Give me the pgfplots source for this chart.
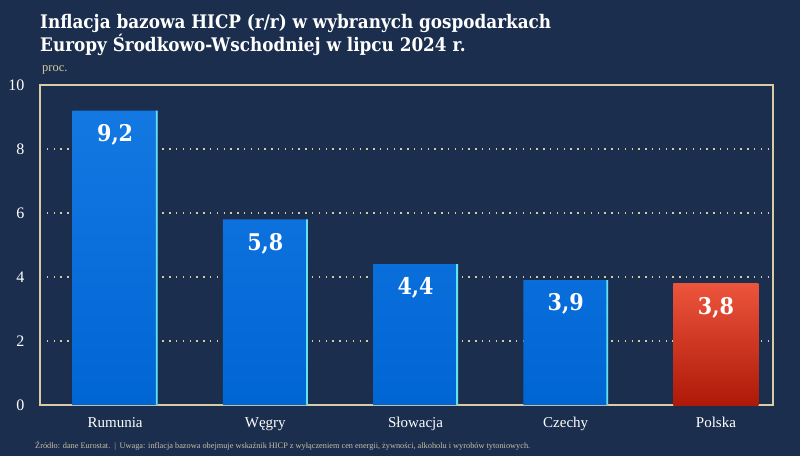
\documentclass[border=0pt]{standalone}
\usepackage{pgfplots}
\pgfplotsset{compat=1.18}
\usepackage{fontspec}
\setmainfont{Liberation Serif}
\newfontfamily\titlefont[FakeStretch=0.9]{DejaVu Serif}

\definecolor{bgnavy}{HTML}{1B2E4E}
\definecolor{framebeige}{HTML}{D9CBA3}
\definecolor{barbluetop}{HTML}{1478E2}
\definecolor{barbluebot}{HTML}{0066D4}
\definecolor{edgecyan}{HTML}{5FE3F0}
\definecolor{redtop}{HTML}{EC543C}
\definecolor{redbot}{HTML}{AE1A08}
\definecolor{notegrey}{HTML}{C9BFA6}

\begin{document}
\begin{tikzpicture}
\fill[bgnavy] (0pt,0pt) rectangle (800pt,456pt);

% title and notes
\node[anchor=base west, inner sep=0pt, text=white, font=\titlefont\bfseries\fontsize{18.7}{22}\selectfont] at (40pt,427pt) {Inflacja bazowa HICP (r/r) w wybranych gospodarkach};
\node[anchor=base west, inner sep=0pt, text=white, font=\titlefont\bfseries\fontsize{18.7}{22}\selectfont] at (40pt,404pt) {Europy Środkowo-Wschodniej w lipcu 2024 r.};
\node[anchor=base west, inner sep=0pt, text=framebeige, font=\fontsize{12.5}{14}\selectfont] at (42pt,384pt) {proc.};
\node[anchor=base west, inner sep=0pt, text=notegrey, font=\fontsize{8.3}{10}\selectfont] at (35pt,8pt) {Źródło: dane Eurostat. \,|\, Uwaga: inflacja bazowa obejmuje wskaźnik HICP z wyłączeniem cen energii, żywności, alkoholu i wyrobów tytoniowych.};

\begin{axis}[
  at={(40pt,51pt)}, anchor=south west,
  scale only axis, width=733pt, height=320pt,
  xmin=-0.5, xmax=4.38,
  ymin=0, ymax=10,
  xtick={0,...,4},
  xticklabels={Rumunia,Węgry,Słowacja,Czechy,Polska},
  ytick={0,2,...,10},
  major tick length=0pt,
  axis line style={framebeige, line width=1.3pt},
  ymajorgrids=true,
  grid style={framebeige, line width=1.6pt, dash pattern=on 1.4pt off 5.4pt},
  tick label style={text=white},
  yticklabel style={font=\fontsize{16}{18}\selectfont, xshift=-12pt},
  xticklabel style={font=\fontsize{15}{17}\selectfont, yshift=-9pt},
  /pgf/number format/assume math mode=true,
  nodes near coords style={anchor=north, yshift=-10pt, text=white,
    font=\titlefont\bfseries\fontsize{23}{26}\selectfont,
    /pgf/number format/.cd, use comma, fixed, fixed zerofill, precision=1},
]
\addplot[ybar, bar width=0.565, bar shift=0, draw=none, top color=barbluetop, bottom color=barbluebot, nodes near coords] coordinates {
  (0,9.2) (1,5.8) (2,4.4) (3,3.9)
};
\addplot[ybar, bar width=0.565, bar shift=0, draw=none, top color=redtop, bottom color=redbot, nodes near coords] coordinates {
  (4,3.8)
};
% thin cyan right edges of the blue bars
\addplot[ybar, draw=none, fill=edgecyan, bar width=0.012, bar shift=0.277] coordinates {
  (0,9.2) (1,5.8) (2,4.4) (3,3.9)
};
\end{axis}
\end{tikzpicture}
\end{document}
